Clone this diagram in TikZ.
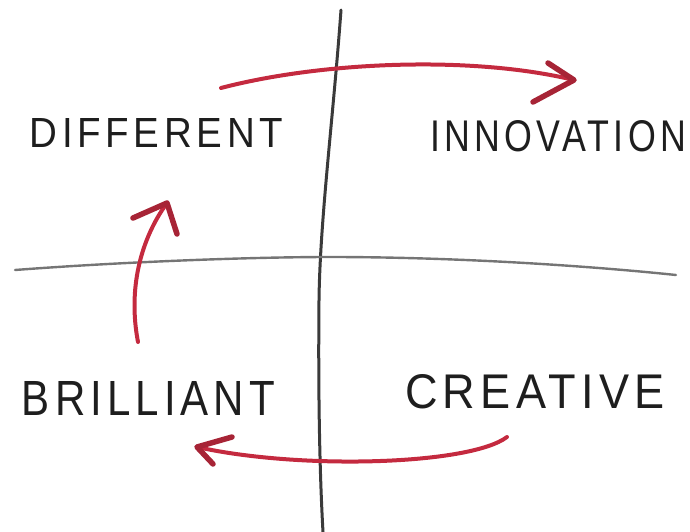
\documentclass[tikz,border=0pt]{standalone}
\usepackage{fontspec}
\setmainfont{Liberation Sans}[LetterSpace=12]
\usepackage{graphicx}
\definecolor{pencil}{HTML}{3A3A3A}
\definecolor{ink}{HTML}{1E1E1E}
\definecolor{redpen}{HTML}{C42A3F}
\begin{document}
\begin{tikzpicture}[x=1pt,y=-1pt,
  axis/.style={draw=pencil,line width=3pt,line cap=round,line join=round},
  axisthin/.style={draw=pencil!70,line width=2.4pt,line cap=round},
  redarrow/.style={draw=redpen,line width=4pt,line cap=round,line join=round},
  barb/.style={draw=redpen!85!black,line width=5.5pt,line cap=round,line join=round},
  word/.style={inner sep=0pt,text=ink,font=\fontsize{30}{30}\selectfont}]
\useasboundingbox (0,0) rectangle (690,532);
% axes
\draw[axis] (341,10) .. controls (333,120) and (320,220) .. (319,300) .. controls (318,400) and (320,480) .. (323,532);
\draw[axisthin] (15,270) .. controls (120,262) and (250,257) .. (330,257) .. controls (450,257) and (580,265) .. (676,275);
% labels
\node[word] (different) at (156.5,132.5) {\resizebox{253pt}{29pt}{DIFFERENT}};
\node[word] (innovation) at (558,136.5) {\resizebox{256pt}{31pt}{INNOVATION}};
\node[word] (brilliant) at (148.5,398) {\resizebox{253pt}{34pt}{BRILLIANT}};
\node[word] (creative) at (535,392) {\resizebox{260pt}{34pt}{CREATIVE}};
% arrow ends
\coordinate (t0) at (221,88);
\coordinate (t1) at (574,80);
\coordinate (l0) at (138,342);
\coordinate (l1) at (167,203);
\coordinate (b0) at (507,437);
\coordinate (b1) at (197,447);
% top arrow
\draw[redarrow] (t0) .. controls (320,62) and (470,55) .. (t1);
\draw[barb] (548,63) -- (t1) -- (533,102);
% left arrow
\draw[redarrow] (l0) .. controls (128,290) and (140,240) .. (l1);
\draw[barb] (133,218) -- (l1) -- (177,234);
% bottom arrow
\draw[redarrow] (b0) .. controls (470,465) and (300,470) .. (b1);
\draw[barb] (232,437) -- (b1) -- (213,464);
\end{tikzpicture}
\end{document}
